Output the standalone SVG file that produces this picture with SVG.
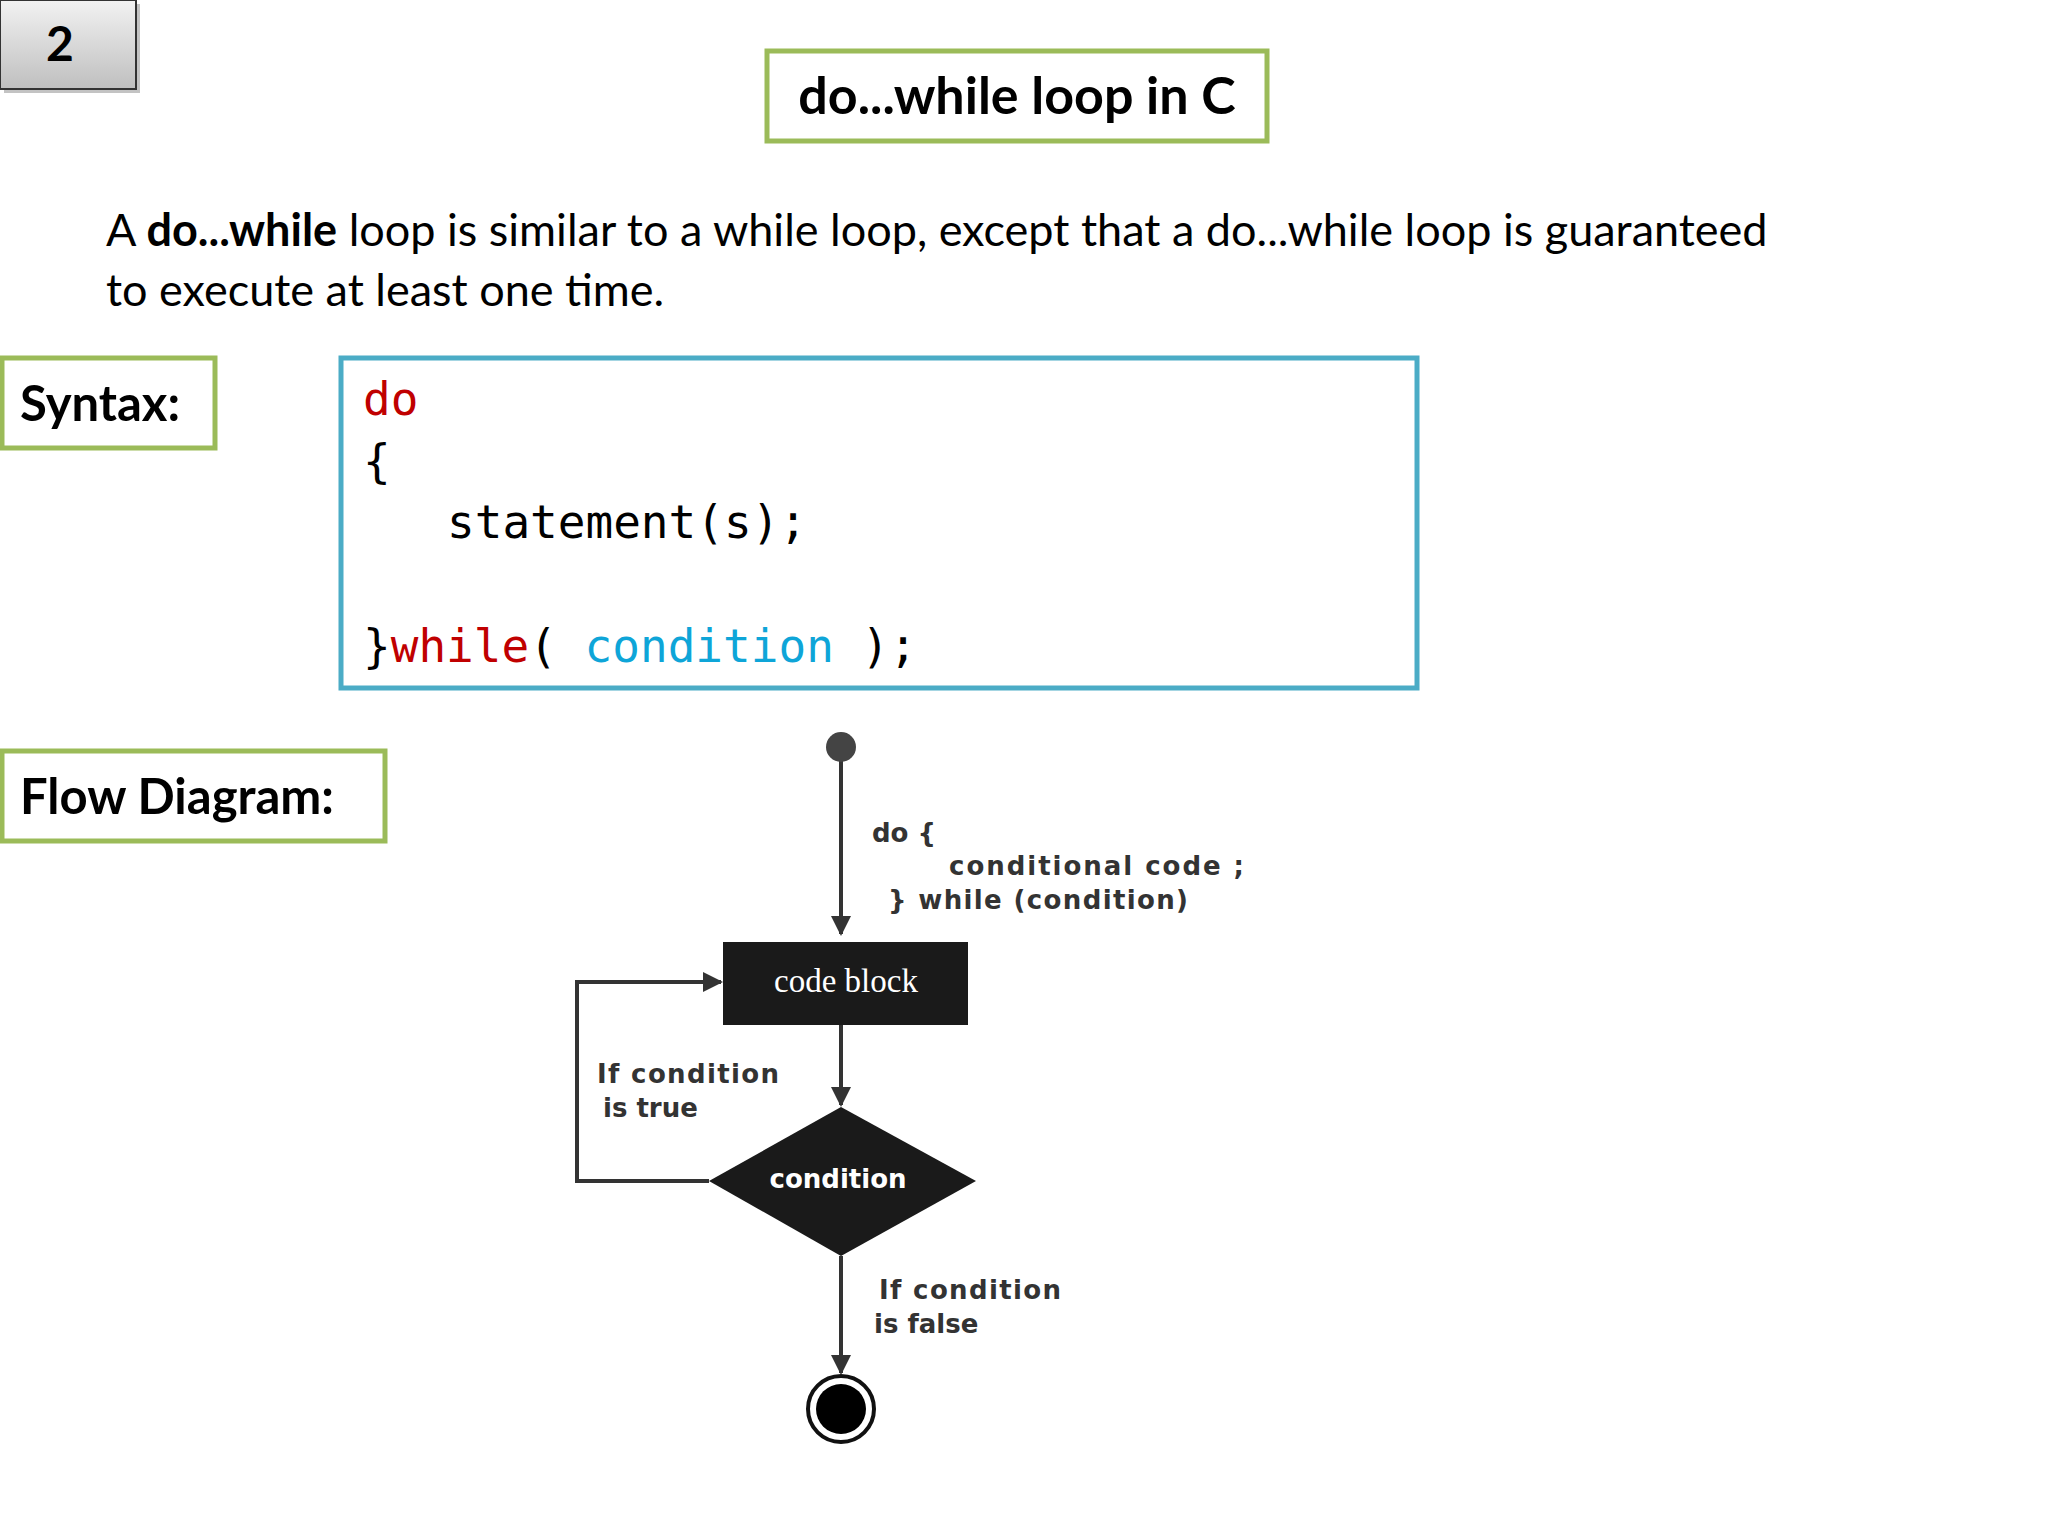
<svg xmlns="http://www.w3.org/2000/svg" width="2048" height="1536" viewBox="0 0 2048 1536">
<defs>
<linearGradient id="g" x1="0" y1="0" x2="0" y2="1"><stop offset="0" stop-color="#f2f2f2"/><stop offset="1" stop-color="#bfbfbf"/></linearGradient>
<marker id="a" viewBox="0 0 10 10" refX="9" refY="5" markerWidth="5" markerHeight="5" orient="auto"><path d="M0,0 L10,5 L0,10 z" fill="#333"/></marker>
</defs>
<style>
.gb{fill:#fff;stroke:#9bbb59;stroke-width:5}
.h{font-family:Lato,"Open Sans",sans-serif;font-weight:bold;fill:#000}
.p{font-family:Lato,"Open Sans",sans-serif;font-size:45px;fill:#000}
.c{font-family:"DejaVu Sans Mono","Liberation Mono",monospace;font-size:46px;fill:#000}
.lb{font-family:"DejaVu Sans",sans-serif;font-weight:bold;font-size:26px;fill:#333}
.ln{stroke:#333;stroke-width:4;fill:none}
</style>
<rect width="2048" height="1536" fill="#fff"/>
<g id="num"><rect x="4" y="4" width="136" height="89" fill="#888" opacity="0.5"/><rect x="0" y="0" width="136" height="89" fill="url(#g)" stroke="#333" stroke-width="2"/><text x="60" y="61" class="h" font-size="48" text-anchor="middle">2</text></g>
<g id="title"><rect x="767" y="51" width="500" height="90" class="gb"/><text x="1017" y="114" class="h" font-size="52" text-anchor="middle">do...while loop in C</text></g>
<g id="para"><text x="106" y="246" class="p">A <tspan font-weight="bold">do...while</tspan> loop is similar to a while loop, except that a do...while loop is guaranteed</text><text x="106" y="306" class="p">to execute at least one time.</text></g>
<g id="syntax"><rect x="2" y="358" width="213" height="90" class="gb"/><text x="20" y="421" class="h" font-size="49">Syntax:</text></g>
<g id="code"><rect x="341" y="358" width="1076" height="330" fill="#fff" stroke="#4bacc6" stroke-width="5"/>
<text x="363" y="415" class="c" fill="#c00000" style="fill:#c00000">do</text>
<text x="363" y="477" class="c">{</text>
<text x="447" y="538" class="c">statement(s);</text>
<text x="363" y="662" class="c">}<tspan style="fill:#c00000">while</tspan>( <tspan style="fill:#0ea5d8">condition</tspan> );</text></g>
<g id="flowlabel"><rect x="2" y="751" width="383" height="90" class="gb"/><text x="20" y="814" class="h" font-size="49">Flow Diagram:</text></g>
<g id="connectors">
<line x1="841" y1="750" x2="841" y2="934" class="ln" marker-end="url(#a)"/>
<line x1="841" y1="1025" x2="841" y2="1105" class="ln" marker-end="url(#a)"/>
<polyline points="709,1181 577,1181 577,982 721,982" class="ln" marker-end="url(#a)"/>
<line x1="841" y1="1256" x2="841" y2="1373" class="ln" marker-end="url(#a)"/>
</g>
<g id="start"><circle cx="841" cy="747" r="15" fill="#444"/></g>
<g id="codeblock"><rect x="723" y="942" width="245" height="83" fill="#1a1a1a"/><text x="846" y="992" font-family="'Liberation Serif',serif" font-size="33" fill="#fff" text-anchor="middle">code block</text></g>
<g id="cond"><polygon points="841,1107 976,1181 841,1256 709,1181" fill="#1a1a1a"/><text x="838" y="1188" class="lb" style="fill:#fff" font-size="25" text-anchor="middle">condition</text></g>
<g id="end"><circle cx="841" cy="1409" r="33" fill="#fff" stroke="#111" stroke-width="4"/><circle cx="841" cy="1409" r="25" fill="#000"/></g>
<g id="labels">
<text x="872" y="842" class="lb">do {</text>
<text x="949" y="875" class="lb" textLength="295">conditional code ;</text>
<text x="888" y="909" class="lb" textLength="300">} while (condition)</text>
<text x="597" y="1083" class="lb" textLength="182">If condition</text>
<text x="603" y="1117" class="lb">is true</text>
<text x="879" y="1299" class="lb" textLength="182">If condition</text>
<text x="874" y="1333" class="lb">is false</text>
</g>
</svg>
